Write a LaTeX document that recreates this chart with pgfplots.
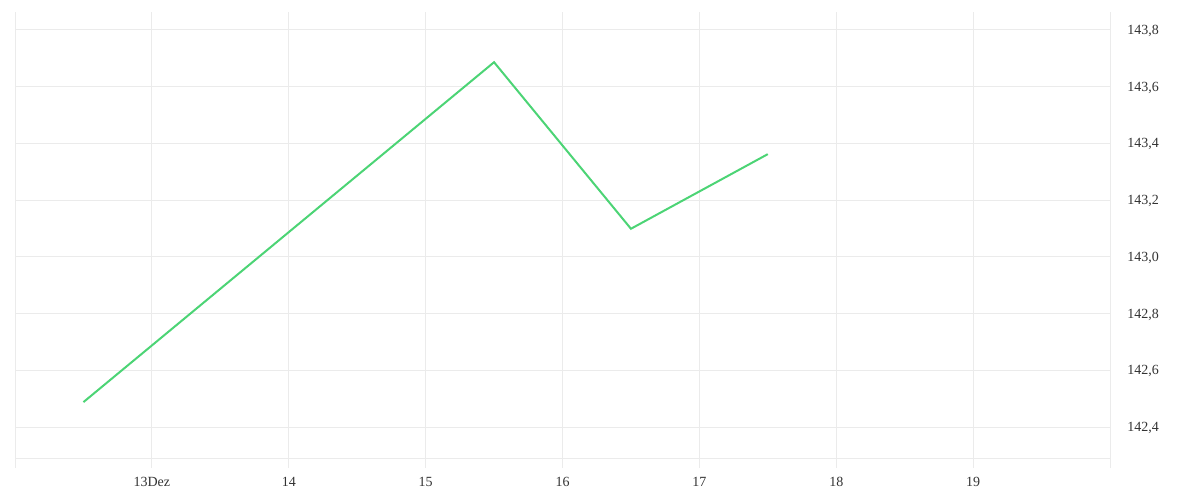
\documentclass[border=0pt]{standalone}
\usepackage{pgfplots}
\pgfplotsset{compat=1.18}
\usepackage{fontspec}
\setmainfont{Liberation Serif}
\definecolor{gridc}{HTML}{EBEBEB}
\definecolor{linec}{HTML}{4CD475}
\definecolor{textc}{HTML}{333333}
\begin{document}
\begin{tikzpicture}
\begin{axis}[
  scale only axis,
  width=821.25pt, height=334.5pt,
  xmin=12, xmax=20,
  ymin=142.291, ymax=143.863,
  axis x line=bottom,
  axis y line=box,
  x axis line style={-, draw=gridc, line width=0.75pt},
  y axis line style={-, draw=gridc, line width=0.75pt},
  xtick={12,13,14,15,16,17,18,19,20},
  xticklabels={,13Dez,14,15,16,17,18,19,},
  ytick={142.4,142.6,142.8,143.0,143.2,143.4,143.6,143.8},
  yticklabel pos=right,
  grid=major,
  major grid style={draw=gridc, line width=0.75pt},
  tick align=outside,
  xtick style={draw=gridc, line width=0.75pt, /pgfplots/major tick length=7.5pt},
  ytick style={draw=none},
  typeset ticklabels with strut,
  xticklabel style={font=\fontsize{10.5pt}{12pt}\selectfont, text=textc, yshift=-5pt},
  yticklabel style={font=\fontsize{10.5pt}{12pt}\selectfont, text=textc, xshift=5.25pt, yshift=-1pt,
    /pgf/number format/.cd, fixed, fixed zerofill, precision=1, use comma},
  /pgf/number format/assume math mode=true,
  clip=false,
]
\addplot[color=linec, line width=1.5pt, line join=miter] coordinates {
  (12.5,142.488) (15.5,143.686) (16.5,143.099) (17.5,143.362)
};
\end{axis}
\path[use as bounding box] ([xshift=-11.25pt,yshift=-31.5pt]current axis.south west) rectangle ([xshift=67.5pt,yshift=9pt]current axis.north east);
\end{tikzpicture}
\end{document}
